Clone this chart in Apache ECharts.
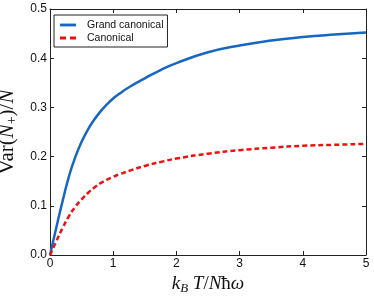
<!DOCTYPE html>
<html>
<head>
<meta charset="utf-8">
<script src="https://cdn.jsdelivr.net/npm/echarts@6/dist/echarts.min.js"></script>
<style>
html,body{margin:0;padding:0;background:#fff;}
#chart{width:374px;height:298px;}
</style>
</head>
<body>
<div id="chart"></div>
<script>
const xValues = [0, 0.1, 0.2, 0.3, 0.4, 0.5, 0.6, 0.7, 0.8, 0.9, 1, 1.1, 1.25, 1.5, 1.75, 2, 2.5, 3, 3.5, 4, 4.5, 5];
const grandCanonical = [0, 0.056, 0.110, 0.160, 0.199, 0.230, 0.255, 0.275, 0.292, 0.306, 0.318, 0.328, 0.341, 0.359, 0.376, 0.390, 0.412, 0.426, 0.436, 0.443, 0.448, 0.452];
const canonical = [0, 0.028, 0.055, 0.079, 0.098, 0.113, 0.126, 0.137, 0.146, 0.153, 0.159, 0.164, 0.171, 0.181, 0.189, 0.196, 0.206, 0.213, 0.218, 0.222, 0.224, 0.226];
const seriesNames = ['Grand canonical', 'Canonical'];
const xTicks = [0, 1, 2, 3, 4, 5];
const yTicks = [0.0, 0.1, 0.2, 0.3, 0.4, 0.5];

const pairs = (ys) => xValues.map((x, i) => [x, ys[i]]);
const chart = echarts.init(document.getElementById('chart'), null, {renderer: 'canvas'});
const tickStyle = {show: true, inside: true, length: 4, lineStyle: {color: '#222', width: 1}};
const lineAxis = {show: true, onZero: false, lineStyle: {color: '#222', width: 1}};
const labelFont = {fontFamily: 'Liberation Sans, Arial, sans-serif', fontSize: 12, color: '#111'};
const serif = 'Liberation Serif, serif';

chart.setOption({
  animation: false,
  backgroundColor: '#fff',
  grid: {left: 50, right: 8, top: 9, bottom: 43, containLabel: false, outerBoundsMode: 'none'},
  legend: {
    left: 54, top: 15, orient: 'vertical',
    data: [
      {name: seriesNames[0], icon: 'path://M0,0H17V3H0Z'},
      {name: seriesNames[1], icon: 'path://M0,0H6V3H0Z M10,0H16V3H10Z'}
    ],
    itemWidth: 16, itemHeight: 3, itemGap: 1,
    padding: [4, 4, 3, 6],
    borderColor: '#222', borderWidth: 1, borderRadius: 0,
    backgroundColor: '#fff',
    textStyle: {fontFamily: 'Liberation Sans, Arial, sans-serif', fontSize: 10.5, lineHeight: 12, color: '#111', padding: [0, 0, 0, 6]}
  },
  xAxis: [{
    type: 'value', min: xTicks[0], max: xTicks[xTicks.length - 1], interval: 1,
    axisLine: lineAxis, axisTick: tickStyle, splitLine: {show: false},
    axisLabel: Object.assign({margin: 3, formatter: v => String(v)}, labelFont),
    name: '{i|k}{sub|B}{i| T}{n|/}{i|N}{n|ħ}{i|ω}',
    nameLocation: 'middle', nameGap: 18,
    nameTextStyle: {
      rich: {
        i: {fontFamily: serif, fontStyle: 'italic', fontSize: 19, color: '#111'},
        n: {fontFamily: serif, fontSize: 19, color: '#111'},
        sub: {fontFamily: serif, fontStyle: 'italic', fontSize: 13, color: '#111', verticalAlign: 'bottom', padding: [8, 0, 0, 0]}
      }
    }
  }, {
    type: 'value', position: 'top', min: xTicks[0], max: xTicks[xTicks.length - 1], interval: 1,
    axisLine: lineAxis, axisTick: tickStyle, axisLabel: {show: false}, splitLine: {show: false}
  }],
  yAxis: [{
    type: 'value', min: yTicks[0], max: yTicks[yTicks.length - 1], interval: 0.1,
    axisLine: lineAxis, axisTick: tickStyle, splitLine: {show: false},
    axisLabel: Object.assign({margin: 3, formatter: v => v.toFixed(1)}, labelFont),
    name: '{n|Var(}{i|N}{sub|+}{n|)/}{i|N}',
    nameLocation: 'middle', nameGap: 27, nameRotate: 90,
    nameTextStyle: {
      rich: {
        i: {fontFamily: serif, fontStyle: 'italic', fontSize: 21, color: '#111'},
        n: {fontFamily: serif, fontSize: 21, color: '#111'},
        sub: {fontFamily: serif, fontSize: 14, color: '#111', verticalAlign: 'bottom', padding: [9, 0, 0, 0]}
      }
    }
  }, {
    type: 'value', position: 'right', min: yTicks[0], max: yTicks[yTicks.length - 1], interval: 0.1,
    axisLine: lineAxis, axisTick: tickStyle, axisLabel: {show: false}, splitLine: {show: false}
  }],
  series: [{
    name: seriesNames[0], type: 'line', data: pairs(grandCanonical), smooth: 0.5,
    showSymbol: false, symbol: 'none', xAxisIndex: 0, yAxisIndex: 0,
    itemStyle: {color: '#1767c2'},
    lineStyle: {color: '#1767c2', width: 2.5}
  }, {
    name: seriesNames[1], type: 'line', data: pairs(canonical), smooth: 0.5,
    showSymbol: false, symbol: 'none', xAxisIndex: 0, yAxisIndex: 0,
    itemStyle: {color: '#ee1111'},
    lineStyle: {color: '#ee1111', width: 2.5, type: [5, 3]}
  }]
});
</script>
</body>
</html>
